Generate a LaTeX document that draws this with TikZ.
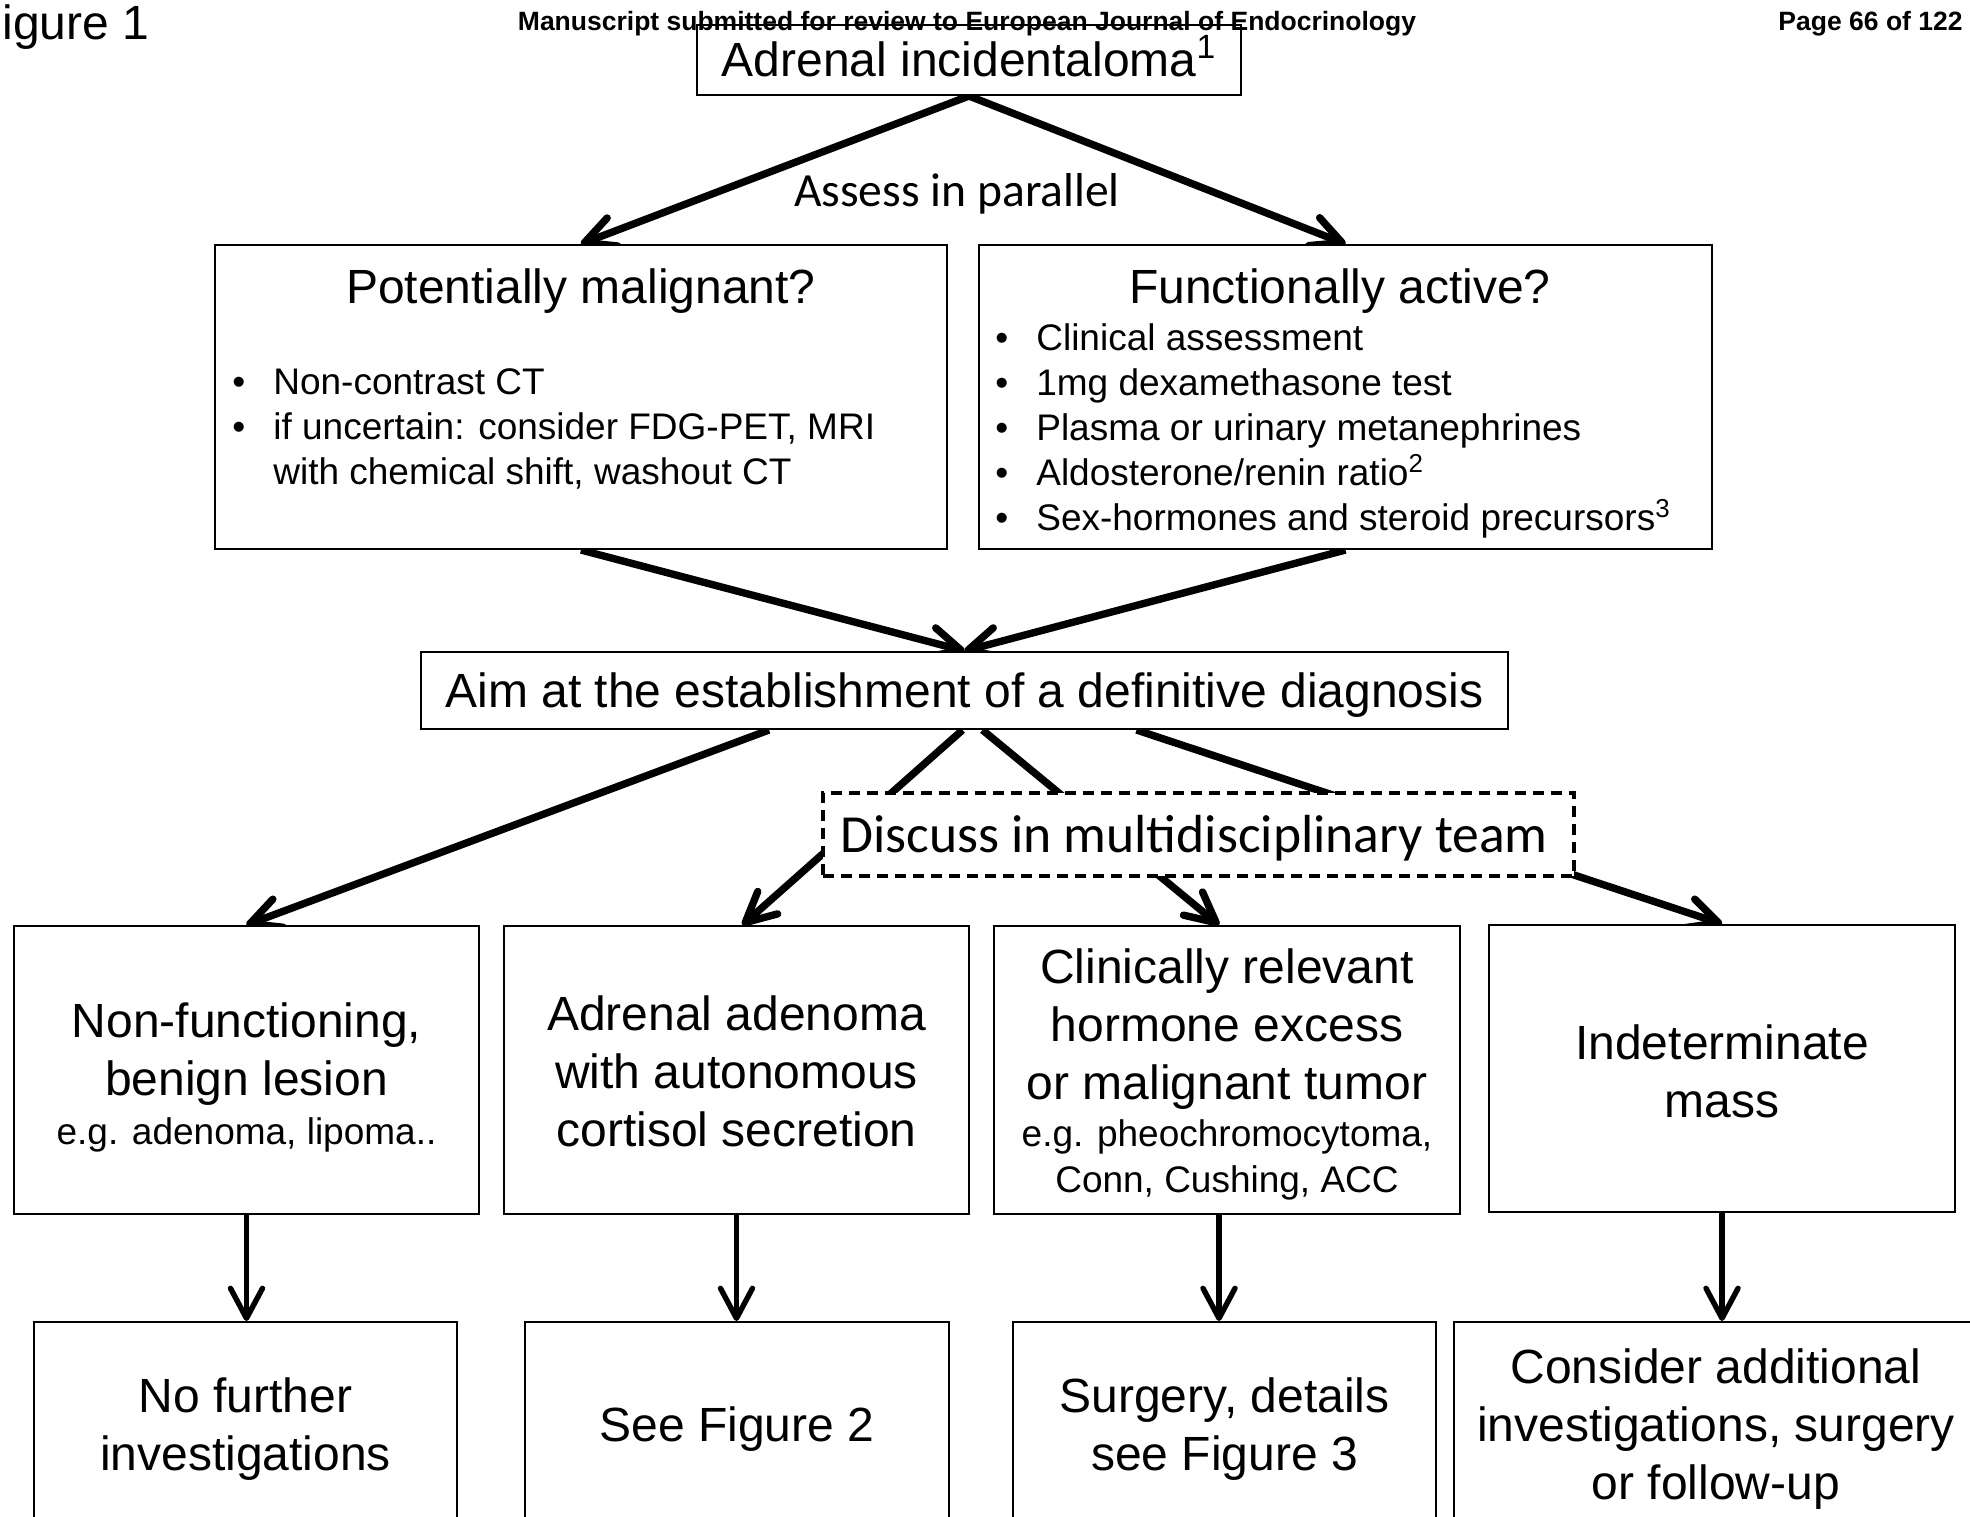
\documentclass[tikz,border=0pt]{standalone}
\usepackage{fontspec}
\setmainfont{Liberation Sans}
\newfontfamily\calib{Carlito}
\usetikzlibrary{arrows.meta,calc}
\pgfdeclarelayer{bg}
\pgfsetlayers{bg,main}
\newcommand\fbig{\fontsize{24pt}{29pt}\selectfont}
\newcommand\fsmall{\fontsize{18.5pt}{22.5pt}\selectfont}
\newcommand\fhead{\fontsize{13.25pt}{16pt}\selectfont\bfseries}
\tikzset{
  box/.style={draw, line width=1pt, fill=white, inner sep=0pt},
  dbox/.style={draw, line width=1.6pt, dash pattern=on 5.5pt off 3.5pt, fill=white, inner sep=0pt},
  txt/.style={inner sep=0pt, align=center, font=\fbig},
  conn/.style={line width=3.7pt, -{Straight Barb[length=15pt,width=15pt,round]}},
  vconn/.style={line width=2.7pt, -{Straight Barb[length=15pt,width=16pt,round]}},
  plain/.style={inner sep=0pt}
}
\begin{document}
\begin{tikzpicture}[x=0.5pt,y=-0.5pt]
\useasboundingbox (0,0) rectangle (1970,1516);
% boxes
\node[box, minimum width=272pt, minimum height=35pt] (top) at (969,60) {};
\node[box, minimum width=366pt, minimum height=152pt] (pm) at (581,397) {};
\node[box, minimum width=366.5pt, minimum height=152pt] (fa) at (1345.5,397) {};
\node[box, minimum width=543.5pt, minimum height=38.5pt] (aim) at (964.5,690.5) {};
\node[dbox, minimum width=375.5pt, minimum height=41.5pt] (mdt) at (1198.5,834.5) {};
\node[box, minimum width=232.5pt, minimum height=144pt] (b1) at (246.5,1070) {};
\node[box, minimum width=232.5pt, minimum height=144pt] (b2) at (736.5,1070) {};
\node[box, minimum width=233pt, minimum height=144pt] (b3) at (1227,1070) {};
\node[box, minimum width=233pt, minimum height=143.5pt] (b4) at (1722,1068.5) {};
\node[box, minimum width=211.5pt, minimum height=107pt] (c1) at (245.5,1429) {};
\node[box, minimum width=212pt, minimum height=107pt] (c2) at (737,1429) {};
\node[box, minimum width=211.5pt, minimum height=107pt] (c3) at (1224.5,1429) {};
\node[box, minimum width=266pt, minimum height=107pt] (c4) at (1720,1429) {};

% texts
\node[plain, anchor=base west, font=\fontsize{24pt}{29pt}\selectfont] (fig) at (2,39) {igure 1};
\node[plain, anchor=base, font=\fhead] (hdr) at (967,30) {Manuscript submitted for review to European Journal of Endocrinology};
\node[plain, anchor=base east, font=\fhead] (pg) at (1963,30) {Page 66 of 122};
\node[txt] (topt) at (969,56) {Adrenal incidentaloma\textsuperscript{1}};
\node[plain, anchor=base, font=\calib\fontsize{23.8pt}{28pt}\selectfont] (assess) at (957,206) {Assess in parallel};

\node[plain, anchor=base, font=\fbig] (pmt) at (581,303) {Potentially malignant?};
\node[plain, anchor=base west, font=\fsmall] (pml) at (232,394) {\begin{tabular}[t]{@{}l@{\hspace{14pt}}l@{}}\textbullet & Non-contrast CT\\ \textbullet & if uncertain: consider FDG-PET, MRI\\ & with chemical shift, washout CT\end{tabular}};
\node[plain, anchor=base, font=\fbig] (fat) at (1340,303) {Functionally active?};
\node[plain, anchor=base west, font=\fsmall] (fal) at (995,350) {\begin{tabular}[t]{@{}l@{\hspace{14pt}}l@{}}\textbullet & Clinical assessment\\ \textbullet & 1mg dexamethasone test\\ \textbullet & Plasma or urinary metanephrines\\ \textbullet & Aldosterone/renin ratio\textsuperscript{2}\\ \textbullet & Sex-hormones and steroid precursors\textsuperscript{3}\end{tabular}};

\node[txt] (aimt) at (964.5,695.5) {Aim at the establishment of a definitive diagnosis};
\node[txt, font=\calib\fontsize{26.8pt}{32pt}\selectfont] (mdtt) at (1194,838) {Discuss in multidisciplinary team};

\node[txt] (b1t) at (246.5,1077.5) {Non-functioning,\\benign lesion\\[-4.25pt]{\fsmall e.g. adenoma, lipoma..}};
\node[txt] (b2t) at (736.5,1071) {Adrenal adenoma\\with autonomous\\cortisol secretion};
\node[txt] (b3t) at (1227,1074.5) {Clinically relevant\\hormone excess\\or malignant tumor\\[-5.5pt]{\fsmall e.g. pheochromocytoma,}\\[-6pt]{\fsmall Conn, Cushing, ACC}};
\node[txt] (b4t) at (1722,1071) {Indeterminate\\mass};
\node[txt] (c1t) at (245.5,1429) {No further\\investigations};
\node[txt] (c2t) at (737,1429) {See Figure 2};
\node[txt] (c3t) at (1224.5,1429) {Surgery, details\\see Figure 3};
\node[txt] (c4t) at (1716,1429) {Consider additional\\investigations, surgery\\or follow-up};

% connectors
\begin{pgfonlayer}{bg}
\draw[conn] (top.south) -- (pm.north);
\draw[conn] (top.south) -- (fa.north);
\draw[conn] (pm.south) -- (aim.north);
\draw[conn] (fa.south) -- (aim.north);
\draw[conn] ($(aim.south)+(-195.5,0)$) -- (b1.north);
\draw[conn] ($(aim.south)+(-2,0)$) -- ($(b2.north)+(6,0)$);
\draw[conn] ($(aim.south)+(18,0)$) -- ($(b3.north)+(-8,0)$);
\draw[conn] ($(aim.south)+(172,0)$) -- (b4.north);
\draw[vconn] (b1.south) -- (b1.south |- c1.north);
\draw[vconn] (b2.south) -- (b2.south |- c2.north);
\draw[vconn] ($(b3.south)+(-8,0)$) -- ($(b3.south |- c3.north)+(-8,0)$);
\draw[vconn] (b4.south) -- (b4.south |- c4.north);
\end{pgfonlayer}
\end{tikzpicture}
\end{document}
